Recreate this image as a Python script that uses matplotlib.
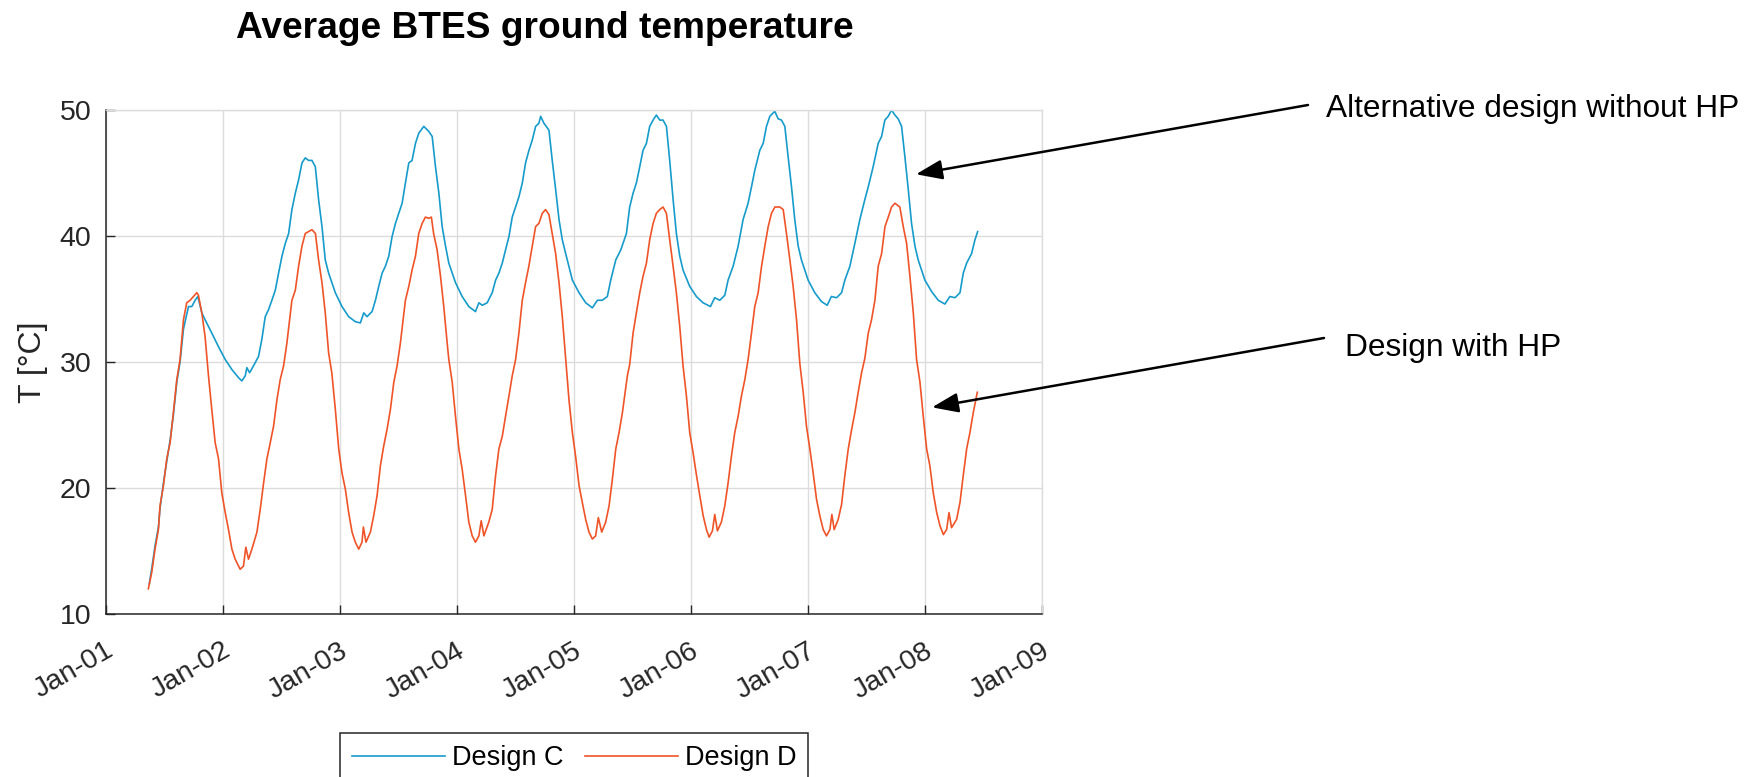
import numpy as np
import matplotlib
matplotlib.use("Agg")
import matplotlib.pyplot as plt
from matplotlib.lines import Line2D
from matplotlib.transforms import ScaledTranslation

plt.rcParams['font.family'] = ['Liberation Sans', 'DejaVu Sans']

# years since Jan 2001
years_d = [0.362, 0.391, 0.419, 0.448, 0.462, 0.491, 0.519, 0.548, 0.576, 0.605, 0.633, 0.662, 0.690,
           0.719, 0.748, 0.776, 0.790, 0.819, 0.847, 0.876, 0.904, 0.933, 0.962, 0.990, 1.019, 1.047,
           1.076, 1.104, 1.147, 1.175, 1.195, 1.218, 1.247, 1.290, 1.318, 1.347, 1.375, 1.404, 1.432,
           1.461, 1.489, 1.518, 1.546, 1.589, 1.618, 1.646, 1.675, 1.703, 1.732, 1.760, 1.790, 1.817,
           1.846, 1.874, 1.903, 1.930, 1.960, 1.989, 2.017, 2.046, 2.074, 2.103, 2.131, 2.160, 2.188,
           2.200, 2.222, 2.260, 2.288, 2.317, 2.345, 2.374, 2.403, 2.431, 2.460, 2.488, 2.516, 2.559,
           2.588, 2.616, 2.645, 2.673, 2.702, 2.730, 2.759, 2.781, 2.800, 2.830, 2.859, 2.887, 2.916,
           2.930, 2.959, 2.987, 3.016, 3.044, 3.073, 3.101, 3.130, 3.158, 3.187, 3.207, 3.230, 3.272,
           3.301, 3.330, 3.358, 3.387, 3.415, 3.444, 3.472, 3.501, 3.529, 3.558, 3.586, 3.614, 3.643,
           3.672, 3.700, 3.729, 3.757, 3.786, 3.814, 3.843, 3.872, 3.900, 3.929, 3.957, 3.986, 4.014,
           4.043, 4.071, 4.100, 4.128, 4.157, 4.185, 4.208, 4.237, 4.271, 4.300, 4.328, 4.357, 4.385,
           4.414, 4.456, 4.476, 4.505, 4.533, 4.562, 4.590, 4.619, 4.647, 4.676, 4.704, 4.733, 4.761,
           4.790, 4.818, 4.847, 4.875, 4.904, 4.932, 4.961, 4.989, 5.018, 5.047, 5.075, 5.104, 5.132,
           5.155, 5.183, 5.203, 5.226, 5.260, 5.289, 5.317, 5.346, 5.374, 5.403, 5.431, 5.460, 5.488,
           5.517, 5.545, 5.574, 5.603, 5.631, 5.660, 5.688, 5.717, 5.759, 5.788, 5.816, 5.845, 5.873,
           5.902, 5.930, 5.959, 5.987, 6.016, 6.044, 6.073, 6.101, 6.130, 6.158, 6.187, 6.204, 6.224,
           6.258, 6.287, 6.315, 6.344, 6.372, 6.401, 6.429, 6.458, 6.486, 6.515, 6.543, 6.572, 6.600,
           6.629, 6.658, 6.686, 6.714, 6.743, 6.785, 6.814, 6.843, 6.871, 6.900, 6.928, 6.957, 6.985,
           7.014, 7.042, 7.071, 7.100, 7.128, 7.157, 7.185, 7.205, 7.227, 7.270, 7.299, 7.327, 7.356,
           7.384, 7.413, 7.447]
temp_d = [12.0, 13.3, 15.15, 16.7, 18.6, 20.2, 22.3, 23.6, 26.0, 28.6, 30.2, 33.35, 34.7,
          34.9, 35.2, 35.5, 35.3, 33.9, 32.0, 28.9, 26.25, 23.6, 22.3, 19.6, 18.05, 16.7,
          15.15, 14.35, 13.55, 13.8, 15.3, 14.35, 15.15, 16.5, 18.3, 20.4, 22.3, 23.6, 24.9,
          27.0, 28.6, 29.7, 31.5, 34.9, 35.7, 37.6, 39.2, 40.2, 40.35, 40.5, 40.2, 38.1,
          36.3, 33.9, 30.7, 29.15, 26.25, 23.1, 21.2, 19.9, 18.05, 16.5, 15.7, 15.15, 15.7,
          16.9, 15.7, 16.5, 17.8, 19.4, 21.75, 23.35, 24.7, 26.25, 28.4, 29.7, 31.5, 34.9,
          36.0, 37.3, 38.4, 40.2, 41.0, 41.5, 41.4, 41.5, 40.2, 38.9, 36.8, 34.4, 31.5,
          30.2, 28.4, 25.7, 23.1, 21.5, 19.4, 17.3, 16.2, 15.7, 16.2, 17.4, 16.2, 17.3,
          18.3, 21.0, 23.1, 24.1, 25.7, 27.3, 28.9, 30.2, 32.3, 34.9, 36.3, 37.6, 39.2,
          40.75, 41.0, 41.8, 42.1, 41.7, 40.2, 38.6, 36.3, 33.6, 30.2, 27.0, 24.4, 22.5,
          20.2, 18.85, 17.5, 16.5, 15.95, 16.2, 17.65, 16.5, 17.3, 18.6, 20.7, 23.1, 24.4,
          26.0, 28.9, 29.8, 32.3, 33.9, 35.5, 36.8, 37.85, 39.7, 41.0, 41.8, 42.1, 42.3,
          41.8, 39.7, 37.6, 35.5, 32.8, 29.7, 27.3, 24.4, 22.8, 21.0, 19.4, 17.8, 16.7,
          16.1, 16.6, 17.9, 16.6, 17.3, 18.6, 20.4, 22.55, 24.4, 25.7, 27.3, 28.6, 30.2,
          32.3, 34.4, 35.5, 37.6, 39.2, 40.75, 41.8, 42.3, 42.3, 42.1, 40.2, 38.1, 36.0,
          33.35, 29.9, 27.6, 24.9, 23.1, 21.2, 19.1, 17.8, 16.7, 16.2, 16.7, 17.9, 16.7,
          17.5, 18.7, 21.0, 23.1, 24.6, 26.0, 27.6, 29.15, 30.3, 32.3, 33.35, 34.9, 37.6,
          38.6, 40.75, 41.5, 42.3, 42.6, 42.3, 40.75, 39.4, 36.8, 33.9, 30.2, 28.4, 25.7,
          23.1, 21.75, 19.6, 18.05, 17.0, 16.3, 16.7, 18.05, 16.85, 17.5, 18.85, 21.0, 23.1,
          24.4, 26.0, 27.6]

years_c = [0.370, 0.391, 0.419, 0.448, 0.462, 0.491, 0.519, 0.548, 0.576, 0.605, 0.633, 0.662, 0.676,
           0.705, 0.733, 0.762, 0.785, 0.819, 0.847, 0.904, 0.962, 1.019, 1.076, 1.133, 1.161, 1.190,
           1.204, 1.227, 1.261, 1.290, 1.304, 1.332, 1.361, 1.389, 1.418, 1.447, 1.475, 1.504, 1.532,
           1.561, 1.589, 1.618, 1.646, 1.675, 1.703, 1.732, 1.760, 1.789, 1.817, 1.846, 1.874, 1.903,
           1.960, 2.017, 2.074, 2.131, 2.174, 2.203, 2.231, 2.274, 2.303, 2.331, 2.360, 2.388, 2.417,
           2.445, 2.474, 2.502, 2.531, 2.559, 2.588, 2.616, 2.645, 2.673, 2.716, 2.759, 2.788, 2.816,
           2.845, 2.873, 2.902, 2.930, 2.987, 3.044, 3.101, 3.158, 3.187, 3.216, 3.258, 3.301, 3.330,
           3.358, 3.387, 3.415, 3.444, 3.472, 3.501, 3.529, 3.558, 3.586, 3.615, 3.643, 3.672, 3.700,
           3.715, 3.743, 3.786, 3.814, 3.843, 3.872, 3.900, 3.929, 3.986, 4.043, 4.100, 4.157, 4.200,
           4.242, 4.285, 4.314, 4.357, 4.400, 4.448, 4.476, 4.505, 4.533, 4.562, 4.590, 4.619, 4.647,
           4.676, 4.704, 4.733, 4.761, 4.790, 4.818, 4.847, 4.875, 4.904, 4.932, 4.989, 5.046, 5.103,
           5.166, 5.203, 5.246, 5.289, 5.317, 5.360, 5.403, 5.445, 5.488, 5.517, 5.545, 5.588, 5.617,
           5.645, 5.674, 5.716, 5.745, 5.773, 5.802, 5.830, 5.859, 5.887, 5.916, 5.944, 6.001, 6.058,
           6.115, 6.164, 6.200, 6.244, 6.287, 6.315, 6.358, 6.400, 6.443, 6.486, 6.515, 6.557, 6.600,
           6.629, 6.657, 6.686, 6.714, 6.743, 6.771, 6.800, 6.828, 6.857, 6.885, 6.914, 6.942, 6.999,
           7.056, 7.113, 7.170, 7.213, 7.256, 7.299, 7.327, 7.356, 7.398, 7.427, 7.450]
temp_c = [12.4, 13.6, 15.4, 16.9, 18.4, 20.4, 22.1, 23.8, 25.8, 28.4, 30.0, 32.6, 33.2,
          34.4, 34.4, 34.9, 35.2, 33.9, 33.35, 32.3, 31.2, 30.2, 29.4, 28.75, 28.5, 28.9,
          29.55, 29.15, 29.7, 30.2, 30.45, 31.8, 33.6, 34.15, 34.9, 35.7, 37.05, 38.4, 39.4,
          40.2, 42.1, 43.4, 44.45, 45.8, 46.2, 46.0, 46.0, 45.5, 42.9, 40.75, 38.1, 37.05,
          35.5, 34.4, 33.6, 33.2, 33.1, 33.9, 33.6, 34.0, 34.9, 36.0, 37.05, 37.6, 38.4,
          39.95, 41.0, 41.8, 42.6, 44.2, 45.8, 46.0, 47.35, 48.15, 48.7, 48.3, 47.9, 45.5,
          43.4, 40.75, 39.2, 37.85, 36.3, 35.2, 34.4, 34.0, 34.7, 34.5, 34.7, 35.5, 36.5,
          37.05, 37.85, 38.9, 39.95, 41.5, 42.3, 43.1, 44.2, 45.8, 46.8, 47.6, 48.7, 48.95,
          49.5, 48.95, 48.4, 46.0, 43.7, 41.3, 39.7, 38.6, 36.5, 35.5, 34.7, 34.3, 34.9,
          34.9, 35.2, 36.5, 38.1, 38.9, 40.2, 42.3, 43.4, 44.2, 45.5, 46.8, 47.35, 48.7,
          49.2, 49.6, 49.2, 49.2, 48.7, 46.0, 42.9, 40.2, 38.4, 37.3, 36.0, 35.2, 34.7,
          34.4, 35.1, 34.9, 35.3, 36.5, 37.6, 39.2, 41.3, 42.6, 43.9, 45.2, 46.8, 47.35,
          48.7, 49.5, 49.9, 49.3, 49.2, 48.7, 46.3, 43.9, 41.3, 39.2, 38.1, 36.5, 35.5,
          34.8, 34.5, 35.2, 35.1, 35.5, 36.5, 37.6, 39.4, 41.3, 42.9, 43.9, 45.5, 47.35,
          47.9, 49.2, 49.5, 50.0, 49.6, 49.3, 48.7, 46.3, 43.7, 41.0, 39.2, 38.1, 36.5,
          35.6, 34.9, 34.6, 35.2, 35.1, 35.5, 37.05, 37.85, 38.6, 39.7, 40.35]

tick_years = [0, 1, 2, 3, 4, 5, 6, 7, 8]
tick_labels = ['Jan-01', 'Jan-02', 'Jan-03', 'Jan-04', 'Jan-05', 'Jan-06', 'Jan-07', 'Jan-08', 'Jan-09']
y_ticks = [10, 20, 30, 40, 50]

blue = '#169bcb'
red = '#ef5428'
dark = '#262626'
gridc = '#dcdcdc'

W, H = 1747, 777
fig = plt.figure(figsize=(W / 100, H / 100), dpi=100)
ax = fig.add_axes([106 / W, 163 / H, 936 / W, 504 / H])

ax.plot(years_c, temp_c, color=blue, lw=1.2, label='Design C')
ax.plot(years_d, temp_d, color=red, lw=1.2, label='Design D')

ax.set_xlim(0, 8)
ax.set_ylim(10, 50)
ax.set_xticks(tick_years)
ax.set_xticklabels(tick_labels)
ax.set_yticks(y_ticks)
ax.grid(True, color=gridc, lw=1.0)
ax.set_axisbelow(True)

for s in ['top', 'right']:
    ax.spines[s].set_color(gridc)
    ax.spines[s].set_linewidth(1.0)
for s in ['left', 'bottom']:
    ax.spines[s].set_color(dark)
    ax.spines[s].set_linewidth(1.1)

ax.tick_params(direction='in', length=6.5, width=1.0, color=dark, labelcolor=dark, labelsize=20.5)
ax.tick_params(axis='y', pad=10.5)
ax.tick_params(axis='x', pad=17)
for lab in ax.get_xticklabels():
    lab.set_rotation(30)
    lab.set_ha('right')
    lab.set_va('top')
    lab.set_transform(lab.get_transform() + ScaledTranslation(0.12, 0, fig.dpi_scale_trans))

ax.set_ylabel('T [°C]', fontsize=23, color=dark)
ax.yaxis.set_label_coords(-0.062, 0.5)

fig.text(545 / W, 1 - 38 / H, 'Average BTES ground temperature', ha='center', va='baseline',
         fontsize=26.7, fontweight='bold')

# annotation arrows (tips on the curves, tails near the labels)
tip_c = (6.923, 44.9)
tip_d = (7.06, 26.4)
tail_c = (1308 / W, 1 - 105 / H)
tail_d = (1324 / W, 1 - 338 / H)
aprops = dict(arrowstyle='-|>,head_length=0.8,head_width=0.3', mutation_scale=20,
              lw=1.8, color='black', shrinkA=0, shrinkB=0)
ax.annotate('', xy=tip_c, xycoords='data', xytext=tail_c, textcoords='figure fraction',
            arrowprops=aprops, annotation_clip=False)
ax.annotate('', xy=tip_d, xycoords='data', xytext=tail_d, textcoords='figure fraction',
            arrowprops=aprops, annotation_clip=False)
fig.text(1326 / W, 1 - 117 / H, 'Alternative design without HP', va='baseline', fontsize=22.8)
fig.text(1345 / W, 1 - 356 / H, 'Design with HP', va='baseline', fontsize=22.8)

handles = [Line2D([], [], color=blue, lw=1.2), Line2D([], [], color=red, lw=1.2)]
leg = fig.legend(handles, ['Design C', 'Design D'], loc='upper center',
                 bbox_to_anchor=(574 / W, 1 - 733 / H), ncol=2, fontsize=19.5,
                 frameon=True, fancybox=False, framealpha=1, edgecolor=dark,
                 borderaxespad=0, borderpad=0.45, handlelength=3.44, handletextpad=0.26,
                 columnspacing=0.78)
leg.get_frame().set_linewidth(1.1)

fig.savefig('out.png', dpi=100)
